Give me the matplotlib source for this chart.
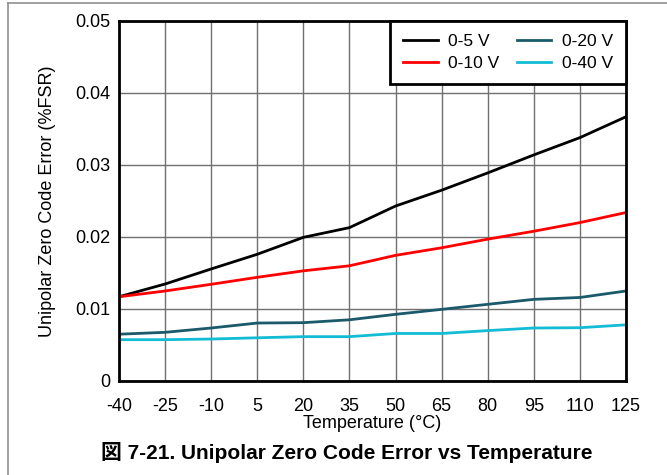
import numpy as np
import matplotlib.pyplot as plt

temps = ['-40', '-25', '-10', '5', '20', '35', '50', '65', '80', '95', '110', '125']
err_5v = [0.0117, 0.01347, 0.01556, 0.0176, 0.01995, 0.0213, 0.0243, 0.0265, 0.0289, 0.0314, 0.0338, 0.0367]
err_10v = [0.0117, 0.0125, 0.01343, 0.0144, 0.0153, 0.0160, 0.01745, 0.0185, 0.0197, 0.0208, 0.0220, 0.0234]
err_20v = [0.0065, 0.00676, 0.00736, 0.00805, 0.0081, 0.0085, 0.00926, 0.00995, 0.01065, 0.01134, 0.0116, 0.0125]
err_40v = [0.00574, 0.00574, 0.00583, 0.0060, 0.00616, 0.00616, 0.0066, 0.0066, 0.0070, 0.00736, 0.0074, 0.0078]

plt.rcParams['font.family'] = ['Liberation Sans', 'Noto Sans CJK JP', 'DejaVu Sans']

fig = plt.figure(figsize=(6.67, 4.75), dpi=100)
ax = fig.add_axes([0.1784, 0.1979, 0.7601, 0.7579])

x = np.arange(len(temps))
ax.plot(x, err_5v, color='black', lw=2, label='0-5 V')
ax.plot(x, err_10v, color='#ff0000', lw=2, label='0-10 V')
ax.plot(x, err_20v, color='#1a5a6a', lw=2, label='0-20 V')
ax.plot(x, err_40v, color='#12bcd4', lw=2, label='0-40 V')

ax.set_xlim(0, len(temps) - 1)
ax.set_ylim(0, 0.05)
ax.set_xticks(x)
ax.set_xticklabels(temps)
ax.set_yticks([0, 0.01, 0.02, 0.03, 0.04, 0.05])
ax.set_yticklabels(['0', '0.01', '0.02', '0.03', '0.04', '0.05'])
ax.tick_params(axis='y', labelsize=13, length=0, pad=6)
ax.tick_params(axis='x', labelsize=13, length=0, pad=12)
ax.grid(True, color='#707070', lw=1)
for s in ax.spines.values():
    s.set_linewidth(2)

ax.set_xlabel('Temperature (°C)', fontsize=13, labelpad=0)
ax.set_ylabel('Unipolar Zero Code Error (%FSR)', fontsize=13, labelpad=14)

leg = ax.legend(ncol=2, loc='upper right', fontsize=12.5, fancybox=False,
                framealpha=1, edgecolor='black', borderaxespad=0,
                handlelength=2.0, columnspacing=1.0, handletextpad=0.6,
                borderpad=0.75, labelspacing=0.4)
leg.get_frame().set_linewidth(2)

fig.text(0.52, 0.047, '図 7-21. Unipolar Zero Code Error vs Temperature',
         ha='center', va='center', fontsize=15, fontweight='bold')

# page border on the left and top
fig.add_artist(plt.Line2D([0.012, 0.012], [0, 0.994], color='#909090', lw=1.2, transform=fig.transFigure))
fig.add_artist(plt.Line2D([0.012, 1], [0.994, 0.994], color='#909090', lw=1.2, transform=fig.transFigure))

fig.savefig('out.png', dpi=100)
